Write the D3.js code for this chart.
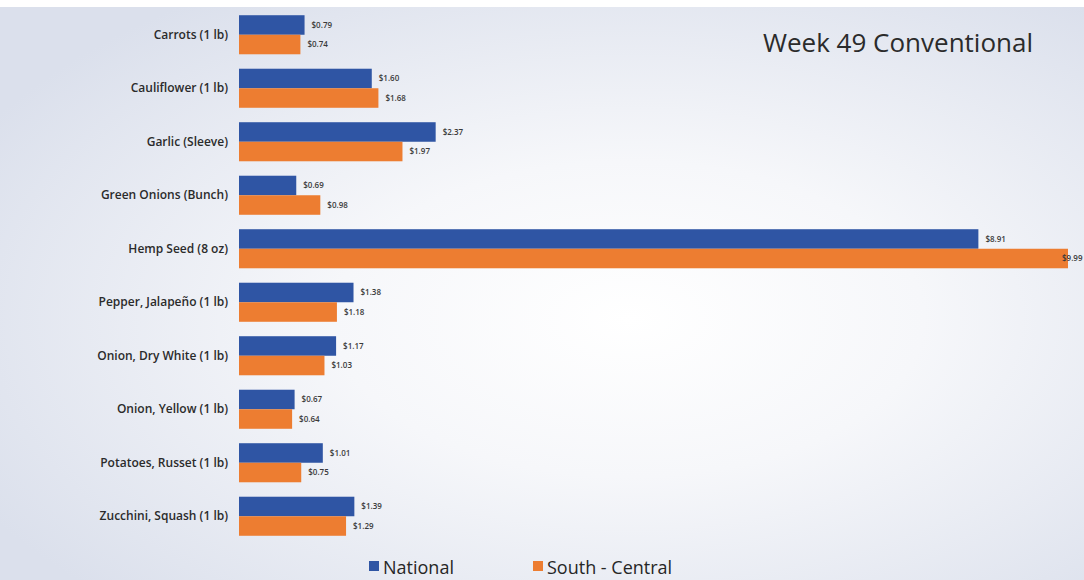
<!DOCTYPE html>
<html>
<head>
<meta charset="utf-8">
<script src="https://cdn.jsdelivr.net/npm/d3@7"></script>
<style>
  body { margin: 0; background: #fff; }
  svg { display: block; font-family: "Open Sans", sans-serif; }
</style>
</head>
<body>
<div id="chart"></div>
<script>
// The data
const categories = [
	"Carrots (1 lb)",
	"Cauliflower (1 lb)",
	"Garlic (Sleeve)",
	"Green Onions (Bunch)",
	"Hemp Seed (8 oz)",
	"Pepper, Jalapeño (1 lb)",
	"Onion, Dry White (1 lb)",
	"Onion, Yellow (1 lb)",
	"Potatoes, Russet (1 lb)",
	"Zucchini, Squash (1 lb)"
];
const seriesNames = ["National", "South - Central"];
const national = [0.79, 1.6, 2.37, 0.69, 8.91, 1.38, 1.17, 0.67, 1.01, 1.39];
const southCentral = [0.74, 1.68, 1.97, 0.98, 9.99, 1.18, 1.03, 0.64, 0.75, 1.29];
const titleText = "Week 49 Conventional";

// Dimensions
const WIDTH = 1084;
const HEIGHT = 580;

const svg = d3
	.select("#chart")
	.append("svg")
	.attr("width", WIDTH)
	.attr("height", HEIGHT);

// Background: soft radial gradient like the slide
const defs = svg.append("defs");
const grad = defs
	.append("radialGradient")
	.attr("id", "bg")
	.attr("cx", "58%")
	.attr("cy", "55%")
	.attr("r", "68%");
grad.append("stop").attr("offset", "0%").attr("stop-color", "#ffffff");
grad.append("stop").attr("offset", "40%").attr("stop-color", "#f6f7fa");
grad.append("stop").attr("offset", "100%").attr("stop-color", "#dbe0ec");

svg.append("rect").attr("width", WIDTH).attr("height", HEIGHT).attr("fill", "url(#bg)");
svg.append("rect").attr("width", WIDTH).attr("height", 7).attr("fill", "#ffffff");

// Scales
const x = d3.scaleLinear().domain([0, 9.99]).range([239, 1068]);

const y = d3
	.scaleBand()
	.domain(categories)
	.range([8, 543])
	.paddingInner(0.27)
	.paddingOuter(0.135);

const ySub = d3.scaleBand().domain(seriesNames).range([0, y.bandwidth()]);

const color = d3.scaleOrdinal().domain(seriesNames).range(["#2f55a4", "#ed7d31"]);

const rows = categories.map((c, i) => ({
	category: c,
	values: [
		{ series: seriesNames[0], value: national[i] },
		{ series: seriesNames[1], value: southCentral[i] }
	]
}));

// Bars
const group = svg
	.selectAll("g.row")
	.data(rows)
	.enter()
	.append("g")
	.attr("class", "row")
	.attr("transform", (d) => `translate(0,${y(d.category)})`);

group
	.selectAll("rect")
	.data((d) => d.values)
	.enter()
	.append("rect")
	.attr("x", x(0))
	.attr("y", (d) => ySub(d.series))
	.attr("width", (d) => x(d.value) - x(0))
	.attr("height", ySub.bandwidth())
	.attr("fill", (d) => color(d.series));

// Value labels (kept inside the picture when the bar runs to the edge)
group
	.selectAll("text.value")
	.data((d) => d.values)
	.enter()
	.append("text")
	.attr("class", "value")
	.attr("x", (d) => Math.min(x(d.value) + 7, WIDTH - 22))
	.attr("y", (d) => ySub(d.series) + ySub.bandwidth() / 2)
	.attr("dy", "0.35em")
	.attr("font-size", 8)
	.attr("font-weight", 600)
	.attr("fill", "#3a3a3a")
	.text((d) => "$" + d.value.toFixed(2));

// Category labels
svg
	.selectAll("text.cat")
	.data(categories)
	.enter()
	.append("text")
	.attr("class", "cat")
	.attr("x", 228)
	.attr("y", (d) => y(d) + y.bandwidth() / 2)
	.attr("dy", "0.35em")
	.attr("text-anchor", "end")
	.attr("font-size", 12)
	.attr("font-weight", 600)
	.attr("fill", "#2b2b2b")
	.text((d) => d);

// Title
svg
	.append("text")
	.attr("x", 1033)
	.attr("y", 52)
	.attr("text-anchor", "end")
	.attr("font-size", 26)
	.attr("font-weight", 500)
	.attr("fill", "#2b2b2b")
	.text(titleText);

// Legend
const legendPos = [369, 533];
const legend = svg
	.selectAll("g.legend")
	.data(seriesNames)
	.enter()
	.append("g")
	.attr("class", "legend")
	.attr("transform", (d, i) => `translate(${legendPos[i]},561)`);

legend
	.append("rect")
	.attr("width", 10)
	.attr("height", 10)
	.attr("fill", (d) => color(d));

legend
	.append("text")
	.attr("x", 14)
	.attr("y", 13)
	.attr("font-size", 18)
	.attr("fill", "#262626")
	.text((d) => d);
</script>
</body>
</html>
